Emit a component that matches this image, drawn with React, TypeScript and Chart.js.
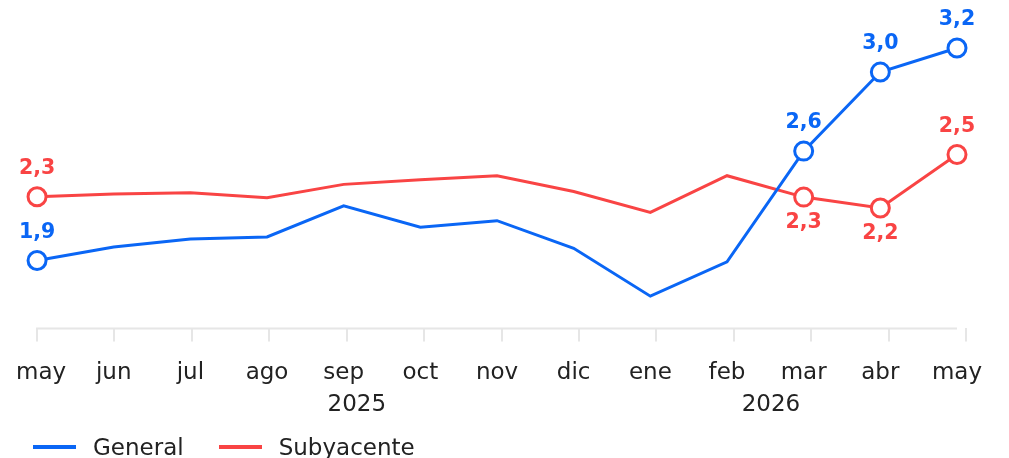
import React, { useEffect, useRef } from "react";
import { Chart, registerables } from "chart.js";

Chart.register(...registerables);

const MONTHS = ["may", "jun", "jul", "ago", "sep", "oct", "nov", "dic", "ene", "feb", "mar", "abr", "may"];
const GENERAL = [1.915, 1.995, 2.042, 2.054, 2.238, 2.111, 2.15, 1.987, 1.705, 1.907, 2.56, 3.026, 3.168];
const SUBYACENTE = [2.291, 2.307, 2.315, 2.285, 2.364, 2.391, 2.415, 2.322, 2.199, 2.415, 2.289, 2.225, 2.54];
const LABELLED = [0, 10, 11, 12];
const GENERAL_LABEL_SIDE = ["above", "above", "above", "above"];
const SUBYACENTE_LABEL_SIDE = ["above", "below", "below", "above"];
const YEARS = ["2025", "2026"];
const YEAR_ANCHORS = [4.13, 9.48];

const BLUE = "#0a66f5";
const RED = "#f94444";
const TEXT = "#222222";
const AXIS = "#e6e6e6";
const FONT = "'DejaVu Sans', sans-serif";

const fmt = (v: number) => v.toFixed(1).replace(".", ",");

export default function App() {
  const ref = useRef<HTMLCanvasElement>(null);

  useEffect(() => {
    if (!ref.current) return;
    const radii = (n: number) => Array.from({ length: n }, (_, i) => (LABELLED.includes(i) ? 9 : 0));

    const labelPlugin = {
      id: "labels",
      afterDatasetsDraw(chart: any) {
        const ctx = chart.ctx;
        ctx.save();
        const xs = chart.scales.x;
        const yb = chart.chartArea.bottom;
        ctx.strokeStyle = AXIS;
        ctx.lineWidth = 2;
        ctx.beginPath();
        ctx.moveTo(xs.getPixelForValue(0) - 1, yb);
        ctx.lineTo(xs.getPixelForValue(MONTHS.length - 1), yb);
        ctx.stroke();

        ctx.font = `700 20.5px ${FONT}`;
        ctx.textAlign = "center";
        ctx.textBaseline = "middle";
        chart.data.datasets.forEach((ds: any, di: number) => {
          const meta = chart.getDatasetMeta(di);
          const sides = di === 0 ? GENERAL_LABEL_SIDE : SUBYACENTE_LABEL_SIDE;
          ctx.fillStyle = ds.borderColor;
          LABELLED.forEach((idx, k) => {
            const el = meta.data[idx];
            const v = ds.data[idx].y;
            const dy = sides[k] === "above" ? -28 : 26;
            ctx.fillText(fmt(v), el.x, el.y + dy);
          });
        });

        // month labels, centred on the monthly data points
        ctx.font = `400 23px ${FONT}`;
        ctx.fillStyle = TEXT;
        ctx.textBaseline = "alphabetic";
        MONTHS.forEach((m, i) => {
          const w = ctx.measureText(m).width;
          const cx = Math.max(xs.getPixelForValue(i), 20 + w / 2);
          ctx.fillText(m, cx, 379);
        });

        const x2 = chart.scales.x2;
        YEARS.forEach((t, i) => {
          ctx.fillText(t, x2.getPixelForValue(YEAR_ANCHORS[i]), 411);
        });
        ctx.restore();
      },
    };

    const chart = new Chart(ref.current, {
      type: "line",
      data: {
        datasets: [
          {
            label: "General",
            data: GENERAL.map((y, x) => ({ x, y })),
            borderColor: BLUE,
            backgroundColor: "#ffffff",
            borderWidth: 3,
            pointRadius: radii(GENERAL.length),
            pointBorderWidth: 3,
            pointBackgroundColor: "#ffffff",
            pointBorderColor: BLUE,
            xAxisID: "x",
            tension: 0,
          },
          {
            label: "Subyacente",
            data: SUBYACENTE.map((y, x) => ({ x, y })),
            borderColor: RED,
            backgroundColor: "#ffffff",
            borderWidth: 3,
            pointRadius: radii(SUBYACENTE.length),
            pointBorderWidth: 3,
            pointBackgroundColor: "#ffffff",
            pointBorderColor: RED,
            xAxisID: "x",
            tension: 0,
          },
        ],
      },
      options: {
        animation: false,
        responsive: true,
        maintainAspectRatio: false,
        layout: { padding: { left: 37, right: 43, top: 40, bottom: 57 } },
        plugins: { legend: { display: false }, tooltip: { enabled: false } },
        clip: false as any,
        scales: {
          x: {
            type: "linear",
            display: false,
            min: 0,
            max: ((MONTHS.length - 1) * 929) / 920,
          },
          x2: {
            type: "category",
            labels: MONTHS,
            position: "bottom",
            offset: false,
            border: { display: false },
            grid: { drawOnChartArea: false, drawTicks: true, tickLength: 13, color: AXIS, lineWidth: 2 },
            ticks: { color: "rgba(0,0,0,0)", font: { family: FONT, size: 23 }, padding: 16, maxRotation: 0, autoSkip: false },
          },
          y: { display: false, min: 1.515, max: 3.215 },
        },
      } as any,
      plugins: [labelPlugin],
    });
    return () => chart.destroy();
  }, []);

  const item = (color: string, text: string, ml: number) => (
    <div style={{ display: "flex", alignItems: "center", marginLeft: ml }}>
      <div style={{ width: 43, height: 4, background: color, marginRight: 17 }} />
      <span style={{ fontFamily: FONT, fontSize: 23, color: TEXT }}>{text}</span>
    </div>
  );

  return (
    <div style={{ position: "fixed", left: 0, top: 0, width: 1009, height: 458, background: "#fff", overflow: "hidden" }}>
      <div style={{ position: "absolute", left: -4, top: 0, width: 1013, height: 458 }}>
        <canvas ref={ref} />
      </div>
      <div style={{ position: "absolute", left: 33, top: 433, display: "flex", lineHeight: "28px" }}>
        {item(BLUE, "General", 0)}
        {item(RED, "Subyacente", 35)}
      </div>
    </div>
  );
}
